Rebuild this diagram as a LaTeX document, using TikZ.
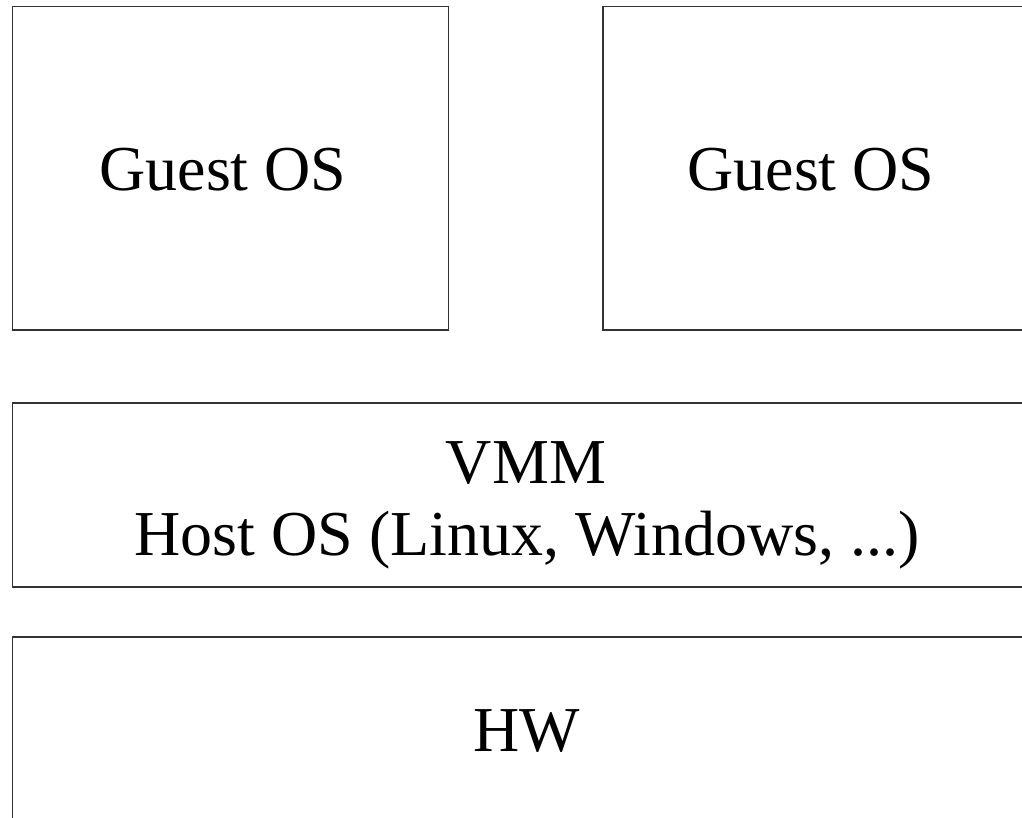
\documentclass[tikz,border=0pt]{standalone}
\usepackage{fontspec}
\setmainfont{Liberation Serif}
\begin{document}
\begin{tikzpicture}[x=1pt,y=-1pt,
  layer/.style={draw=black!80,line width=1.4pt,inner sep=0pt,outer sep=0pt,
                anchor=north west},
  label/.style={inner sep=0pt,anchor=base,font=\fontsize{64}{72}\selectfont}]
  \useasboundingbox (0,0) rectangle (1022,818);
  \clip (0,0) rectangle (1022,818);
  % guest systems
  \node[layer,minimum width=436pt,minimum height=323.5pt] (guestA) at (12.5,6.5) {};
  \node[layer,minimum width=436pt,minimum height=323.5pt] (guestB) at (603,6.5) {};
  % host layer and hardware
  \node[layer,minimum width=1028pt,minimum height=184pt] (host) at (12.5,403) {};
  \node[layer,minimum width=1028pt,minimum height=220pt] (hw) at (12.5,637) {};
  % labels
  \node[label] (guestAtext) at (223,191) {Guest OS};
  \node[label] (guestBtext) at (811,191) {Guest OS};
  \node[label] (vmmtext) at (526,483) {VMM};
  \node[label] (hosttext) at (527,555) {Host OS (Linux, Windows, ...)};
  \node[label] (hwtext) at (527,751) {HW};
\end{tikzpicture}
\end{document}
